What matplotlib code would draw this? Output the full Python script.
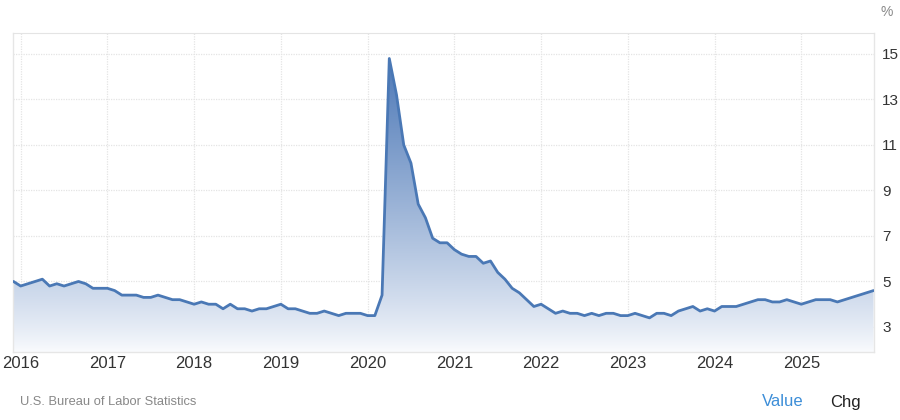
import numpy as np
import matplotlib
matplotlib.use("Agg")
import matplotlib.pyplot as plt
from matplotlib.patches import Polygon

# monthly unemployment rate (%), Dec 2015 .. Nov 2025 (Oct 2025 not published)
start_year = 2015
start_month = 12
rate_2015 = [5.0]
rate_2016 = [4.8, 4.9, 5.0, 5.1, 4.8, 4.9, 4.8, 4.9, 5.0, 4.9, 4.7, 4.7]
rate_2017 = [4.7, 4.6, 4.4, 4.4, 4.4, 4.3, 4.3, 4.4, 4.3, 4.2, 4.2, 4.1]
rate_2018 = [4.0, 4.1, 4.0, 4.0, 3.8, 4.0, 3.8, 3.8, 3.7, 3.8, 3.8, 3.9]
rate_2019 = [4.0, 3.8, 3.8, 3.7, 3.6, 3.6, 3.7, 3.6, 3.5, 3.6, 3.6, 3.6]
rate_2020 = [3.5, 3.5, 4.4, 14.8, 13.2, 11.0, 10.2, 8.4, 7.8, 6.9, 6.7, 6.7]
rate_2021 = [6.4, 6.2, 6.1, 6.1, 5.8, 5.9, 5.4, 5.1, 4.7, 4.5, 4.2, 3.9]
rate_2022 = [4.0, 3.8, 3.6, 3.7, 3.6, 3.6, 3.5, 3.6, 3.5, 3.6, 3.6, 3.5]
rate_2023 = [3.5, 3.6, 3.5, 3.4, 3.6, 3.6, 3.5, 3.7, 3.8, 3.9, 3.7, 3.8]
rate_2024 = [3.7, 3.9, 3.9, 3.9, 4.0, 4.1, 4.2, 4.2, 4.1, 4.1, 4.2, 4.1]
rate_2025 = [4.0, 4.1, 4.2, 4.2, 4.2, 4.1, 4.2, 4.3, 4.4, None, 4.6]

year_ticks = [2016, 2017, 2018, 2019, 2020, 2021, 2022, 2023, 2024, 2025]
value_ticks = [3, 5, 7, 9, 11, 13, 15]

values = (rate_2015 + rate_2016 + rate_2017 + rate_2018 + rate_2019 + rate_2020
          + rate_2021 + rate_2022 + rate_2023 + rate_2024 + rate_2025)
t = start_year + (start_month - 1) / 12 + np.arange(len(values)) / 12
keep = np.array([v is not None for v in values])
x = t[keep]
y = np.array([v for v in values if v is not None], dtype=float)

line_color = "#4a78b5"
grid_color = "#e4e4e4"
ymin, ymax = 1.9, 15.92
xmin, xmax = x[0] - 0.005, x[-1] + 0.005

fig = plt.figure(figsize=(9, 4.2), dpi=100)
ax = fig.add_axes([13 / 900, 68 / 420, 861 / 900, 319 / 420])

# gradient fill under the line
grad = np.linspace(0, 1, 256).reshape(-1, 1) ** 0.85
top_rgb = np.array([0.26, 0.44, 0.70])
bot_rgb = np.array([0.98, 0.985, 0.995])
img = bot_rgb + (top_rgb - bot_rgb) * grad[..., None]
im = ax.imshow(img, extent=[xmin, xmax, ymin, ymax], origin="lower",
               aspect="auto", zorder=1, interpolation="bilinear")
poly = Polygon(np.column_stack([np.r_[x[0], x, x[-1]], np.r_[ymin, y, ymin]]),
               closed=True, facecolor="none", edgecolor="none")
ax.add_patch(poly)
im.set_clip_path(poly)

ax.plot(x, y, color=line_color, lw=2.0, solid_joinstyle="round",
        solid_capstyle="round", zorder=3)

ax.set_xlim(xmin, xmax)
ax.set_ylim(ymin, ymax)
ax.set_xticks(year_ticks)
ax.set_xticklabels([str(yr) for yr in year_ticks])
ax.set_yticks(value_ticks)
ax.yaxis.tick_right()
ax.tick_params(axis="y", length=0, pad=6, labelsize=11, labelcolor="#333333")
ax.tick_params(axis="x", length=0, pad=3, labelsize=12, labelcolor="#333333")
for lab in ax.get_xticklabels() + ax.get_yticklabels():
    lab.set_fontfamily("Liberation Sans")

ax.grid(True, color=grid_color, linestyle=(0, (1, 1)), linewidth=0.9, zorder=0)
ax.set_axisbelow(True)
for side in ["left", "right", "bottom"]:
    ax.spines[side].set_color("#e6e6e6")
    ax.spines[side].set_linewidth(1.0)
ax.spines["top"].set_color(grid_color)
ax.spines["top"].set_linestyle((0, (1, 1)))
ax.set_facecolor("white")

fig.text(887 / 900, 1 - 12 / 420, "%", ha="center", va="center", fontsize=10,
         color="#888888", family="Liberation Sans")
fig.text(20 / 900, 1 - 402 / 420, "U.S. Bureau of Labor Statistics", ha="left",
         va="center", fontsize=9.3, color="#888888", family="Liberation Sans")
fig.text(762 / 900, 1 - 402 / 420, "Value", ha="left", va="center", fontsize=12,
         color="#3d8ed8", family="Liberation Sans")
fig.text(830 / 900, 1 - 402 / 420, "Chg", ha="left", va="center", fontsize=12,
         color="#222222", family="Liberation Sans")

fig.savefig("out.png", dpi=100, facecolor="white")
